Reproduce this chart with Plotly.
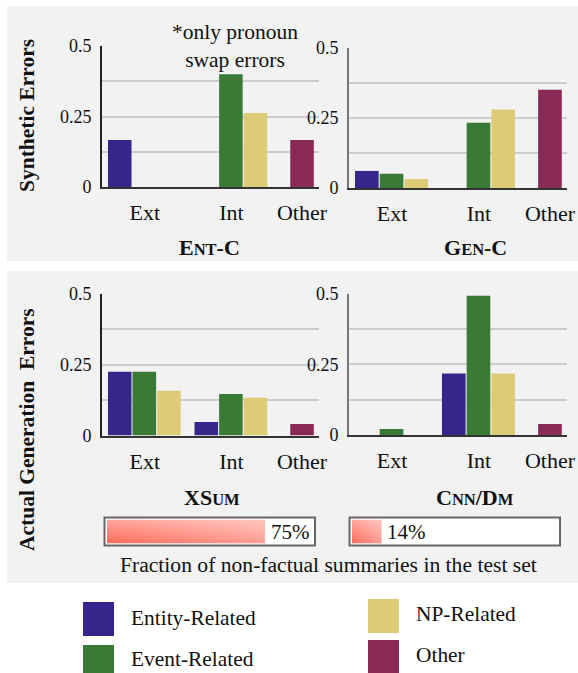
import plotly.graph_objects as go

# ---------------- data ----------------
categories = ["Ext", "Int", "Other"]
series_names = ["Entity-Related", "Event-Related", "NP-Related", "Other"]

# values over [Ext, Int]; "Other" series only has the Other category
entc_entity = [0.167, 0.0]
entc_event = [0.0, 0.40]
entc_np = [0.0, 0.262]
entc_other = [0.167]

genc_entity = [0.061, 0.0]
genc_event = [0.051, 0.233]
genc_np = [0.032, 0.280]
genc_other = [0.351]

xsum_entity = [0.225, 0.048]
xsum_event = [0.225, 0.147]
xsum_np = [0.158, 0.133]
xsum_other = [0.041]

cnn_entity = [0.0, 0.217]
cnn_event = [0.021, 0.492]
cnn_np = [0.0, 0.217]
cnn_other = [0.039]

panel_titles = ["E<span style='font-size:16.5px'>NT</span>-C",
                "G<span style='font-size:16.5px'>EN</span>-C",
                "XS<span style='font-size:16.5px'>UM</span>",
                "C<span style='font-size:16.5px'>NN</span>/D<span style='font-size:16.5px'>M</span>"]
row_titles = ["Synthetic Errors", "Actual Generation\u00a0 Errors"]
nonfactual_pct = [75, 14]
y_tickvals = [0, 0.125, 0.25, 0.375, 0.5]
y_ticktext = ["0", "", "0.25", "", "0.5"]

# ---------------- style / layout ----------------
W, H = 578, 673
FONT = "Liberation Serif, Times New Roman, serif"
colors = ["#34268a", "#3a7a37", "#ddcb77", "#882a55"]
cat_pos = [0.0, 1.0, 1.816]       # category centres on the numeric x axis
bar_w = 0.272
pitch = 0.284


def px(x):
    return x / W


def py(y):
    return 1 - y / H


fig = go.Figure()

panels = [
    dict(data=[entc_entity, entc_event, entc_np, entc_other], xd=(102, 319), yd=(187, 46), yline="#222"),
    dict(data=[genc_entity, genc_event, genc_np, genc_other], xd=(349, 567), yd=(188, 48), yline="#777"),
    dict(data=[xsum_entity, xsum_event, xsum_np, xsum_other], xd=(102, 319), yd=(435.5, 294), yline="#222"),
    dict(data=[cnn_entity, cnn_event, cnn_np, cnn_other], xd=(349, 567), yd=(435, 293.5), yline="#777"),
]

layout_axes = {}
for i, p in enumerate(panels):
    n = i + 1
    xa = "x" if n == 1 else f"x{n}"
    ya = "y" if n == 1 else f"y{n}"
    for k in range(3):
        fig.add_trace(go.Bar(
            x=cat_pos[:2], y=p["data"][k], xaxis=xa, yaxis=ya,
            width=bar_w, offset=-1.5 * pitch + k * pitch,
            marker=dict(color=colors[k], line=dict(width=0)),
            name=series_names[k], showlegend=False, hoverinfo="skip"))
    fig.add_trace(go.Bar(
        x=cat_pos[2:], y=p["data"][3], xaxis=xa, yaxis=ya,
        width=bar_w, offset=-bar_w / 2,
        marker=dict(color=colors[3], line=dict(width=0)),
        name=series_names[3], showlegend=False, hoverinfo="skip"))
    layout_axes["xaxis" if n == 1 else f"xaxis{n}"] = dict(
        domain=[px(p["xd"][0]), px(p["xd"][1])], anchor=ya, automargin=False,
        range=[-0.495, 2.012], tickvals=cat_pos, ticktext=categories,
        showgrid=False, zeroline=False, showline=True, linecolor="#333", linewidth=2,
        ticks="", ticklabelstandoff=5, tickfont=dict(family=FONT, size=22, color="#111"),
        fixedrange=True)
    layout_axes["yaxis" if n == 1 else f"yaxis{n}"] = dict(
        domain=[py(p["yd"][0]), py(p["yd"][1])], anchor=xa, automargin=False,
        range=[0, 0.5], tickvals=y_tickvals, ticktext=y_ticktext,
        showgrid=True, gridcolor="#cccccc", gridwidth=2, zeroline=False,
        showline=True, linecolor=p["yline"], linewidth=2,
        ticks="", ticklabelstandoff=5, tickfont=dict(family=FONT, size=18, color="#111"),
        fixedrange=True)

# progress bars (fraction of non-factual summaries)
pbars = [dict(xd=(107, 317.5), box=(104.5, 517.5, 315, 545.5)),
         dict(xd=(352, 562.5), box=(349.5, 517.5, 560, 545.5))]
for j, pb in enumerate(pbars):
    n = 5 + j
    xa, ya = f"x{n}", f"y{n}"
    v = nonfactual_pct[j]
    fig.add_trace(go.Scatter(
        x=[0, v, v, 0, 0], y=[0, 0, 1, 1, 0], xaxis=xa, yaxis=ya,
        mode="lines", line=dict(width=0), fill="toself",
        fillgradient=dict(type="vertical",
                          colorscale=[[0, "#ff6a58"], [1, "#ffa79e"]]),
        showlegend=False, hoverinfo="skip"))
    fig.add_trace(go.Scatter(
        x=[0, v, v, 0, 0], y=[0, 0, 1, 1, 0], xaxis=xa, yaxis=ya,
        mode="lines", line=dict(width=0), fill="toself",
        fillgradient=dict(type="horizontal",
                          colorscale=[[0, "rgba(255,255,255,0)"], [1, "rgba(255,255,255,0.35)"]]),
        showlegend=False, hoverinfo="skip"))
    layout_axes[f"xaxis{n}"] = dict(domain=[px(pb["xd"][0]), px(pb["xd"][1])], anchor=ya,
                                    range=[0, 100], visible=False, fixedrange=True,
                                    automargin=False)
    layout_axes[f"yaxis{n}"] = dict(domain=[py(543.5), py(519.5)], anchor=xa,
                                    range=[0, 1], visible=False, fixedrange=True,
                                    automargin=False)

shapes = []
# grey panel backgrounds
shapes.append(dict(type="rect", xref="paper", yref="paper", layer="below",
                   x0=px(7), x1=px(578), y0=py(261), y1=py(6),
                   fillcolor="#f2f2f2", line=dict(width=0)))
shapes.append(dict(type="rect", xref="paper", yref="paper", layer="below",
                   x0=px(7), x1=px(578), y0=py(583), y1=py(271),
                   fillcolor="#f2f2f2", line=dict(width=0)))
for pb in pbars:
    x0, y0, x1, y1 = pb["box"]
    shapes.append(dict(type="rect", xref="paper", yref="paper", layer="below",
                       x0=px(x0), x1=px(x1), y0=py(y1), y1=py(y0),
                       fillcolor="white", line=dict(color="#666", width=2)))

annotations = []


def ann(text, x, y, size, bold=False, angle=0, xanchor="center", **kw):
    annotations.append(dict(
        text=f"<b>{text}</b>" if bold else text, x=px(x), y=py(y),
        xref="paper", yref="paper", showarrow=False, textangle=angle,
        xanchor=xanchor, yanchor="middle",
        font=dict(family=FONT, size=size, color="#111"), **kw))


ann(row_titles[0], 27, 116, 21.5, bold=True, angle=-90)
ann(row_titles[1], 27, 430, 21.5, bold=True, angle=-90)
ann(panel_titles[0], 209, 247, 22, bold=True)
ann(panel_titles[1], 475, 247, 22, bold=True)
ann(panel_titles[2], 212, 497, 22, bold=True)
ann(panel_titles[3], 475, 497, 22, bold=True)
ann("*only pronoun<br>swap errors", 235, 46, 21.5)
ann("Fraction of non-factual summaries in the test set", 329, 565, 21.6)

# progress-bar percentage labels anchored at the data value
for j in range(2):
    n = 5 + j
    annotations.append(dict(
        text=f"{nonfactual_pct[j]}%", x=nonfactual_pct[j], y=0.5,
        xref=f"x{n}", yref=f"y{n}", showarrow=False, xanchor="left",
        yanchor="middle", xshift=4,
        font=dict(family=FONT, size=21, color="#111")))

# custom legend
legend_items = [(0, 83, 602, 636, 129, 618),
                (1, 83, 645, 679, 129, 659),
                (2, 368, 599, 633, 414, 614),
                (3, 368, 640, 674, 414, 655)]
for k, x0, y0, y1, tx, ty in legend_items:
    shapes.append(dict(type="rect", xref="paper", yref="paper",
                       x0=px(x0), x1=px(x0 + 31), y0=py(y1), y1=py(y0),
                       fillcolor=colors[k], line=dict(width=0)))
    ann(series_names[k], tx, ty, 21.4, xanchor="left")

fig.update_layout(
    template="none",
    width=W, height=H, margin=dict(l=0, r=0, t=0, b=0, pad=0, autoexpand=False),
    paper_bgcolor="white", plot_bgcolor="rgba(0,0,0,0)",
    barmode="overlay", showlegend=False, hovermode=False,
    shapes=shapes, annotations=annotations,
    font=dict(family=FONT),
    **layout_axes)

fig.write_html(
    "out.html",
    config=dict(displayModeBar=False, staticPlot=True),
    post_script="document.body.style.margin='0';document.body.style.overflow='hidden';")
